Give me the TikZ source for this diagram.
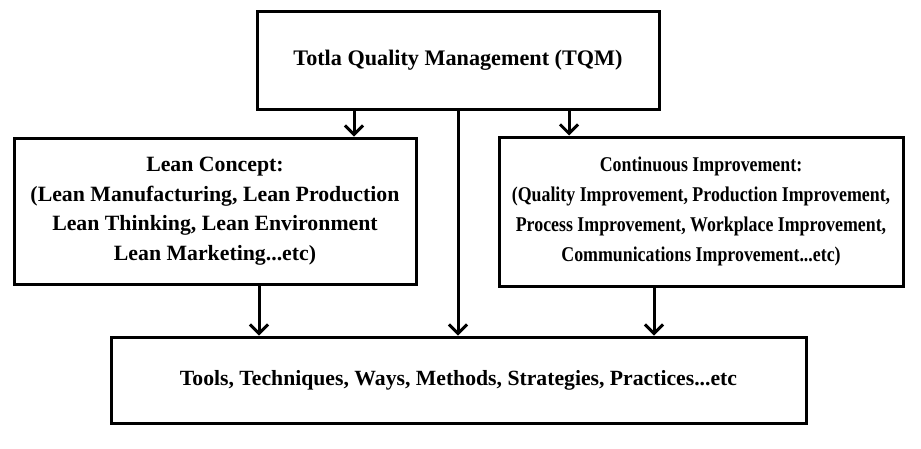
\documentclass[tikz,border=0pt]{standalone}
\usepackage{fontspec}
\setmainfont{Liberation Serif}
\newfontfamily\condfont[FakeStretch=0.85]{Liberation Serif}
\usetikzlibrary{arrows.meta,calc}
\tikzset{
  box/.style={draw,line width=3pt,rectangle,align=center,inner sep=0pt},
  arr/.style={line width=3pt,-{Straight Barb[length=9pt,width=18pt]}},
}
\begin{document}
\begin{tikzpicture}[x=1pt,y=-1pt]
\useasboundingbox (0,0) rectangle (921,448);
\node[box,minimum width=402pt,minimum height=98pt,font=\bfseries\fontsize{22.2}{29.5}\selectfont] (tqm) at (458,60.5) {\raisebox{-3pt}{Totla Quality Management (TQM)}};
\node[box,minimum width=402pt,minimum height=146pt,font=\bfseries\fontsize{21.8}{29.5}\selectfont] (lean) at (215,211) {Lean Concept:\\(Lean Manufacturing, Lean Production\\Lean Thinking, Lean Environment\\Lean Marketing...etc)};
\node[box,minimum width=404pt,minimum height=149pt,font=\condfont\bfseries\fontsize{21}{30}\selectfont] (ci) at (701,211.5) {Continuous Improvement:\\(Quality Improvement, Production Improvement,\\Process Improvement, Workplace Improvement,\\Communications Improvement...etc)};
\node[box,minimum width=695pt,minimum height=86pt,font=\bfseries\fontsize{21.7}{29.5}\selectfont] (bot) at (458.5,380) {\raisebox{-2pt}{Tools, Techniques, Ways, Methods, Strategies, Practices...etc}};
\draw[arr] ([xshift=139pt]lean.north |- tqm.south) -- ([xshift=139pt]lean.north);
\draw[arr] ([xshift=-132pt]ci.north |- tqm.south) -- ([xshift=-132pt]ci.north);
\draw[arr] (tqm.south) -- (tqm.south |- bot.north);
\draw[arr] ([xshift=44pt]lean.south) -- ([xshift=44pt]lean.south |- bot.north);
\draw[arr] ([xshift=-47pt]ci.south) -- ([xshift=-47pt]ci.south |- bot.north);
\end{tikzpicture}
\end{document}
